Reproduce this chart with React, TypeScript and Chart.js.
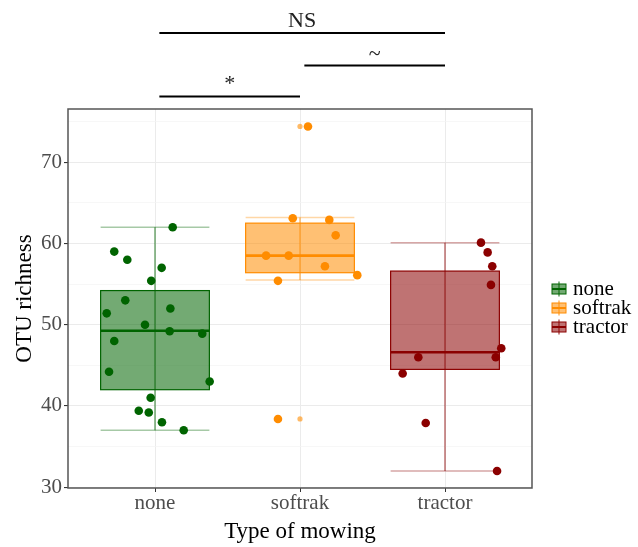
import React, { useEffect, useRef } from "react";
import { Chart, registerables } from "chart.js";
Chart.register(...registerables);

const categories = ["none", "softrak", "tractor"];
const colors = ["#006400", "#FF8C00", "#8B0000"];

const noneValues = [62, 59, 58, 57, 55.4, 53, 51.4, 52, 50, 49.2, 48.9, 48, 44.2, 43, 41, 39.4, 39.2, 38, 37];
const noneJitter = [0.122, -0.281, -0.191, 0.046, -0.026, -0.205, -0.333, 0.106, -0.069, 0.101, 0.326, -0.281, -0.317, 0.377, -0.03, -0.112, -0.043, 0.048, 0.198];
const softrakValues = [74.4, 63.1, 62.9, 61.0, 58.5, 58.5, 57.2, 56.1, 55.4, 38.4];
const softrakJitter = [0.055, -0.05, 0.202, 0.246, -0.234, -0.078, 0.172, 0.395, -0.152, -0.152];
const tractorValues = [60.1, 58.9, 57.2, 54.9, 47.1, 46.0, 46.0, 44.0, 37.9, 32.0];
const tractorJitter = [0.248, 0.294, 0.326, 0.317, 0.388, 0.35, -0.184, -0.292, -0.133, 0.359];

const boxLow = [37, 55.5, 32];
const boxQ1 = [42.0, 56.4, 44.5];
const boxMedian = [49.25, 58.5, 46.6];
const boxQ3 = [54.2, 62.5, 56.6];
const boxHigh = [62, 63.2, 60.1];
const outlierGroup = [1, 1];
const outlierValues = [74.4, 38.4];

const yMajorTicks = [30, 40, 50, 60, 70];
const yMinorTicks = [35, 45, 55, 65, 75];

const sigFrom = [0, 1, 0];
const sigTo = [2, 2, 1];
const sigLabels = ["NS", "~", "*"];
const sigLevels = [85.9, 81.9, 78.1];

const FONT = "'Liberation Serif', 'Times New Roman', Times, serif";
const BOX_HALF = 0.375;

function rgba(hex: string, a: number) {
  const n = parseInt(hex.slice(1), 16);
  return `rgba(${(n >> 16) & 255},${(n >> 8) & 255},${n & 255},${a})`;
}

const boxPlugin = {
  id: "boxes",
  beforeDatasetsDraw(chart: any) {
    const { ctx } = chart;
    const x = chart.scales.x;
    const y = chart.scales.y;
    ctx.save();
    for (let i = 0; i < categories.length; i++) {
      const c = colors[i];
      const cx = x.getPixelForValue(i);
      const l = x.getPixelForValue(i - BOX_HALF);
      const r = x.getPixelForValue(i + BOX_HALF);
      const yLow = y.getPixelForValue(boxLow[i]);
      const yHigh = y.getPixelForValue(boxHigh[i]);
      const yQ1 = y.getPixelForValue(boxQ1[i]);
      const yQ3 = y.getPixelForValue(boxQ3[i]);
      const yMed = y.getPixelForValue(boxMedian[i]);
      // caps
      ctx.strokeStyle = rgba(c, 0.35);
      ctx.lineWidth = 1.5;
      ctx.beginPath();
      ctx.moveTo(l, yLow); ctx.lineTo(r, yLow);
      ctx.moveTo(l, yHigh); ctx.lineTo(r, yHigh);
      ctx.stroke();
      // box
      ctx.fillStyle = rgba(c, 0.55);
      ctx.fillRect(l, yQ3, r - l, yQ1 - yQ3);
      ctx.strokeStyle = c;
      ctx.lineWidth = 1.2;
      ctx.strokeRect(l, yQ3, r - l, yQ1 - yQ3);
      // whisker
      ctx.strokeStyle = rgba(c, 0.6);
      ctx.lineWidth = 1.4;
      ctx.beginPath();
      ctx.moveTo(cx, yLow); ctx.lineTo(cx, yHigh);
      ctx.stroke();
      // median
      ctx.strokeStyle = c;
      ctx.lineWidth = 2.6;
      ctx.beginPath();
      ctx.moveTo(l, yMed); ctx.lineTo(r, yMed);
      ctx.stroke();
    }
    ctx.restore();
  },
  afterDraw(chart: any) {
    const { ctx, chartArea } = chart;
    const x = chart.scales.x;
    const y = chart.scales.y;
    ctx.save();
    // panel border
    ctx.strokeStyle = "#555555";
    ctx.lineWidth = 1.5;
    ctx.strokeRect(chartArea.left, chartArea.top, chartArea.right - chartArea.left, chartArea.bottom - chartArea.top);
    // significance brackets
    ctx.strokeStyle = "#000";
    ctx.fillStyle = "#222";
    ctx.lineWidth = 2;
    ctx.font = `22px ${FONT}`;
    ctx.textAlign = "center";
    ctx.textBaseline = "alphabetic";
    for (let k = 0; k < sigLabels.length; k++) {
      const x1 = x.getPixelForValue(sigFrom[k] + 0.03);
      const x2 = x.getPixelForValue(sigTo[k]);
      const yy = y.getPixelForValue(sigLevels[k]);
      ctx.beginPath();
      ctx.moveTo(x1, yy); ctx.lineTo(x2, yy);
      ctx.stroke();
      ctx.fillText(sigLabels[k], (x1 + x2) / 2, yy - 6);
    }
    // legend
    const keyL = chartArea.right + 20;
    const keyW = 14;
    const top0 = 289;
    const step = 19;
    ctx.textAlign = "left";
    ctx.font = `21px ${FONT}`;
    for (let i = 0; i < categories.length; i++) {
      const cy = top0 + i * step;
      const c = colors[i];
      const cx = keyL + keyW / 2;
      ctx.fillStyle = rgba(c, 0.55);
      ctx.fillRect(keyL, cy - 5, keyW, 10);
      ctx.strokeStyle = c;
      ctx.lineWidth = 1;
      ctx.strokeRect(keyL, cy - 5, keyW, 10);
      ctx.strokeStyle = rgba(c, 0.8);
      ctx.lineWidth = 1.2;
      ctx.beginPath();
      ctx.moveTo(cx, cy - 7.5); ctx.lineTo(cx, cy + 7.5);
      ctx.stroke();
      ctx.strokeStyle = c;
      ctx.lineWidth = 2;
      ctx.beginPath();
      ctx.moveTo(keyL, cy); ctx.lineTo(keyL + keyW, cy);
      ctx.stroke();
      ctx.fillStyle = "#000";
      ctx.fillText(categories[i], keyL + keyW + 7, cy + 6);
    }
    ctx.restore();
  },
};

export default function App() {
  const ref = useRef<HTMLCanvasElement>(null);
  useEffect(() => {
    if (!ref.current) return;
    const groups = [
      [noneValues, noneJitter],
      [softrakValues, softrakJitter],
      [tractorValues, tractorJitter],
    ];
    const datasets: any[] = groups.map(([vals, jit], i) => ({
      type: "scatter",
      label: categories[i],
      data: (vals as number[]).map((v, j) => ({ x: i + (jit as number[])[j], y: v })),
      backgroundColor: colors[i],
      borderWidth: 0,
      pointRadius: 4.3,
      pointHoverRadius: 4.3,
    }));
    datasets.push({
      type: "scatter",
      label: "outliers",
      data: outlierValues.map((v, j) => ({ x: outlierGroup[j], y: v })),
      backgroundColor: outlierGroup.map((g) => rgba(colors[g], 0.6)),
      borderWidth: 0,
      pointRadius: 2.6,
    });
    const allY = [...yMajorTicks, ...yMinorTicks].sort((a, b) => a - b);
    const chart = new Chart(ref.current, {
      type: "scatter",
      data: { datasets },
      plugins: [boxPlugin],
      options: {
        animation: false,
        responsive: false,
        devicePixelRatio: 1,
        layout: { padding: { left: 0, right: 106, top: 109, bottom: 0 } },
        plugins: { legend: { display: false }, tooltip: { enabled: false } },
        scales: {
          x: {
            type: "linear",
            min: -0.6,
            max: 2.6,
            afterFit: (s: any) => { s.height = 59; },
            afterBuildTicks: (s: any) => { s.ticks = categories.map((_, i) => ({ value: i })); },
            ticks: {
              autoSkip: false,
              callback: (v: any) => categories[v] ?? "",
              color: "#4D4D4D",
              font: { family: FONT, size: 21, lineHeight: 1 },
              padding: 1,
              maxRotation: 0,
            },
            grid: { color: "#EBEBEB", lineWidth: 1, tickColor: "#333", tickLength: 4 },
            border: { display: false },
            title: {
              display: true,
              text: "Type of mowing",
              color: "#000",
              font: { family: FONT, size: 23 },
              padding: { top: 0, bottom: 1 },
            },
          },
          y: {
            type: "linear",
            min: 29.9,
            max: 76.55,
            afterFit: (s: any) => { s.width = 68; },
            afterBuildTicks: (s: any) => { s.ticks = allY.map((v) => ({ value: v })); },
            ticks: {
              autoSkip: false,
              callback: (v: any) => (yMajorTicks.includes(v) ? String(v) : ""),
              color: "#4D4D4D",
              font: { family: FONT, size: 21, lineHeight: 1 },
              padding: 2,
            },
            grid: {
              color: (c: any) => (yMajorTicks.includes(c.tick?.value) ? "#EBEBEB" : "#F4F4F4"),
              lineWidth: (c: any) => (yMajorTicks.includes(c.tick?.value) ? 1.1 : 0.7),
              tickColor: (c: any) => (yMajorTicks.includes(c.tick?.value) ? "#333" : "rgba(0,0,0,0)"),
              tickLength: 4,
            },
            border: { display: false },
            title: {
              display: true,
              text: "OTU richness",
              color: "#000",
              font: { family: FONT, size: 23 },
              padding: { top: 11, bottom: 0 },
            },
          },
        },
      } as any,
    });
    return () => chart.destroy();
  }, []);
  return (
    <div style={{ position: "fixed", left: 0, top: 0, width: 638, height: 547, background: "#fff" }}>
      <canvas ref={ref} width={638} height={547} />
    </div>
  );
}
